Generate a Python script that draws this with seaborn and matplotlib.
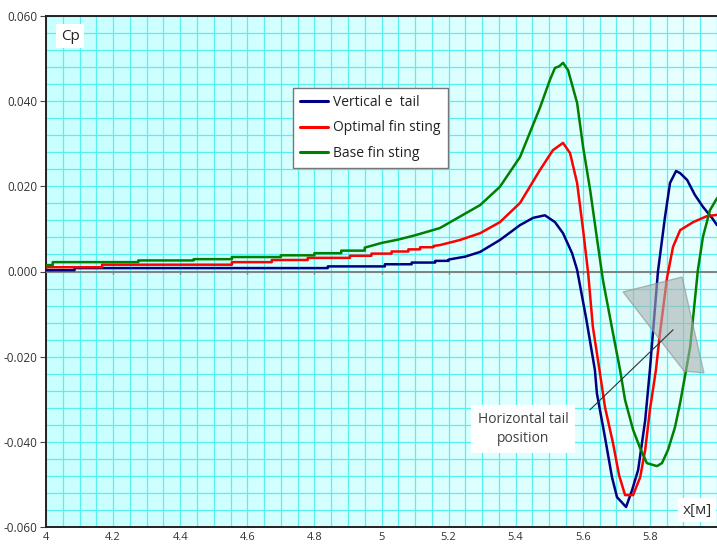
import numpy as np
import pandas as pd
import matplotlib
matplotlib.use("Agg")
import matplotlib.pyplot as plt
import seaborn as sns
from matplotlib.ticker import MultipleLocator
from matplotlib.colors import LinearSegmentedColormap
from matplotlib.patches import Polygon
from matplotlib.lines import Line2D

# ---------------- data ----------------
series_names = ["Vertical e  tail", "Optimal fin sting", "Base fin sting"]
series_colors = ["#000080", "#ff0000", "#008000"]

x_vertical = [4.000, 4.085, 4.085, 4.840, 4.840, 5.010, 5.010, 5.090, 5.090, 5.160, 5.160,
              5.200, 5.200, 5.250, 5.294, 5.353, 5.413, 5.452, 5.487, 5.517, 5.541, 5.568,
              5.583, 5.610, 5.636, 5.642, 5.666, 5.687, 5.702, 5.729, 5.747, 5.765, 5.786,
              5.800, 5.824, 5.845, 5.860, 5.878, 5.890, 5.911, 5.934, 5.958, 5.985, 6.000]
y_vertical = [0.0003, 0.0003, 0.0008, 0.0008, 0.0012, 0.0012, 0.0017, 0.0017, 0.0021, 0.0021, 0.0025,
              0.0025, 0.0028, 0.0035, 0.0046, 0.0074, 0.0109, 0.0126, 0.0132, 0.0116, 0.0090, 0.0043,
              0.0004, -0.0110, -0.0231, -0.0286, -0.0389, -0.0483, -0.0530, -0.0553, -0.0513, -0.0466, -0.0349,
              -0.0231, 0.0000, 0.0128, 0.0208, 0.0236, 0.0231, 0.0215, 0.0180, 0.0152, 0.0126, 0.0109]

x_optimal = [4.000, 4.167, 4.167, 4.554, 4.554, 4.673, 4.673, 4.780, 4.780, 4.906, 4.906,
             4.970, 4.970, 5.030, 5.030, 5.080, 5.080, 5.115, 5.115, 5.155, 5.155, 5.174,
             5.234, 5.294, 5.353, 5.413, 5.472, 5.511, 5.541, 5.562, 5.583, 5.601, 5.616,
             5.630, 5.651, 5.666, 5.690, 5.708, 5.726, 5.750, 5.771, 5.786, 5.800, 5.818,
             5.830, 5.851, 5.869, 5.890, 5.929, 5.970, 6.000]
y_optimal = [0.0010, 0.0010, 0.0016, 0.0016, 0.0022, 0.0022, 0.0027, 0.0027, 0.0032, 0.0032, 0.0037,
             0.0037, 0.0042, 0.0042, 0.0047, 0.0047, 0.0052, 0.0052, 0.0057, 0.0057, 0.0060, 0.0062,
             0.0074, 0.0090, 0.0116, 0.0161, 0.0238, 0.0285, 0.0302, 0.0278, 0.0208, 0.0097, -0.0004,
             -0.0130, -0.0238, -0.0318, -0.0403, -0.0478, -0.0525, -0.0525, -0.0483, -0.0419, -0.0325, -0.0231,
             -0.0145, -0.0015, 0.0058, 0.0097, 0.0116, 0.0130, 0.0133]

x_base = [4.000, 4.020, 4.020, 4.275, 4.275, 4.440, 4.440, 4.554, 4.554, 4.700, 4.700,
          4.800, 4.800, 4.880, 4.880, 4.950, 4.950, 5.000, 5.050, 5.100, 5.174, 5.294,
          5.353, 5.413, 5.472, 5.502, 5.517, 5.530, 5.541, 5.556, 5.583, 5.601, 5.622,
          5.640, 5.660, 5.690, 5.711, 5.726, 5.750, 5.771, 5.791, 5.821, 5.836, 5.854,
          5.875, 5.890, 5.908, 5.920, 5.943, 5.958, 5.979, 6.000]
y_base = [0.0015, 0.0015, 0.0022, 0.0022, 0.0026, 0.0026, 0.0029, 0.0029, 0.0034, 0.0034, 0.0038,
          0.0038, 0.0043, 0.0043, 0.0049, 0.0049, 0.0056, 0.0067, 0.0075, 0.0085, 0.0102, 0.0156,
          0.0199, 0.0269, 0.0384, 0.0450, 0.0478, 0.0482, 0.0490, 0.0473, 0.0396, 0.0292, 0.0191,
          0.0090, -0.0020, -0.0145, -0.0231, -0.0302, -0.0372, -0.0415, -0.0450, -0.0457, -0.0450, -0.0419,
          -0.0365, -0.0309, -0.0231, -0.0177, 0.0003, 0.0081, 0.0144, 0.0172]

x_tick_labels = ["4", "4.2", "4.4", "4.6", "4.8", "5", "5.2", "5.4", "5.6", "5.8"]
y_tick_labels = ["-0.060", "-0.040", "-0.020", "0.000", "0.020", "0.040", "0.060"]

# horizontal tail footprint (grey shape) and annotation
tail_x = [5.720, 5.896, 5.961, 5.902]
tail_y = [-0.0048, -0.0013, -0.0238, -0.0234]
pointer_x = [5.621, 5.869]
pointer_y = [-0.0325, -0.0137]

# ---------------- plotting ----------------
sns.set_style("ticks")
plt.rcParams["font.family"] = ["Open Sans", "DejaVu Sans"]

fig = plt.figure(figsize=(7.17, 5.46), dpi=100)
ax = fig.add_axes([46 / 717, 19 / 546, 671 / 717, 511 / 546])

# background gradient
cmap_bg = LinearSegmentedColormap.from_list("bg", ["#c8ffff", "#e8ffff"])
ax.imshow(np.linspace(0, 1, 256)[None, :], cmap=cmap_bg, extent=[0, 1, 0, 1],
          transform=ax.transAxes, aspect="auto", zorder=0)

frames = []
for name, xs, ys in zip(series_names,
                        [x_vertical, x_optimal, x_base],
                        [y_vertical, y_optimal, y_base]):
    frames.append(pd.DataFrame({"x": xs, "Cp": ys, "series": name}))
df = pd.concat(frames, ignore_index=True)

sns.lineplot(data=df, x="x", y="Cp", hue="series", hue_order=series_names,
             palette=series_colors, sort=False, estimator=None, units="series",
             linewidth=1.8, ax=ax, zorder=4, legend=False)

ax.set_xlim(4.0, 6.0)
ax.set_ylim(-0.060, 0.060)

ax.xaxis.set_minor_locator(MultipleLocator(0.05))
ax.yaxis.set_minor_locator(MultipleLocator(0.004))
ax.set_xticks([4 + 0.2 * i for i in range(len(x_tick_labels))])
ax.set_xticklabels(x_tick_labels)
ax.set_yticks([-0.06 + 0.02 * i for i in range(len(y_tick_labels))])
ax.set_yticklabels(y_tick_labels)

ax.grid(which="both", color="#55f0f0", linewidth=0.9)
ax.set_axisbelow(True)

ax.tick_params(axis="x", which="both", length=0, pad=3.5, labelsize=8, labelcolor="#333333")
ax.tick_params(axis="y", which="major", length=4, width=0.8, pad=2, labelsize=8.5,
               labelcolor="#333333", color="#444444")
ax.tick_params(axis="y", which="minor", length=0)

for side in ["left", "bottom", "top"]:
    ax.spines[side].set_color("#222222")
    ax.spines[side].set_linewidth(1.4)
ax.spines["right"].set_visible(False)

ax.set_xlabel("")
ax.set_ylabel("")

# zero line with ticks
ax.axhline(0, color="#808080", linewidth=1.4, zorder=3)
ax.vlines([4.2 + 0.2 * i for i in range(0, 9)], -0.0007, 0, color="#808080",
          linewidth=1.0, zorder=3)

# grey tail shape and pointer
ax.add_patch(Polygon(list(zip(tail_x, tail_y)), closed=True, facecolor="#a9b0b0",
                     edgecolor="#909090", alpha=0.6, linewidth=1, zorder=5))
ax.plot(pointer_x, pointer_y, color="#303030", linewidth=0.8, zorder=6)

ax.text(5.422, -0.0370, "Horizontal tail\nposition", ha="center", va="center",
        fontsize=10, color="#404040", linespacing=1.3, zorder=7,
        bbox=dict(facecolor="white", edgecolor="none", boxstyle="square,pad=0.5"))

ax.text(0.022, 0.975, "Cp", transform=ax.transAxes, ha="left", va="top",
        fontsize=11, color="#222222", zorder=7,
        bbox=dict(facecolor="white", edgecolor="none", boxstyle="square,pad=0.3"))
ax.text(0.970, 0.033, "x[м]", transform=ax.transAxes, ha="center", va="center",
        fontsize=11, color="#333333", zorder=7,
        bbox=dict(facecolor="white", edgecolor="none", boxstyle="square,pad=0.3"))

# legend
handles = [Line2D([0], [0], color=c, linewidth=2.2) for c in series_colors]
leg = ax.legend(handles, series_names, loc="upper left", bbox_to_anchor=(0.368, 0.859),
                frameon=True, fancybox=False, framealpha=1, facecolor="white",
                edgecolor="#777777", fontsize=10, handlelength=2.0, handletextpad=0.4,
                labelspacing=0.75, borderpad=0.5, borderaxespad=0)
leg.get_frame().set_linewidth(1.0)
leg.set_zorder(8)
for t in leg.get_texts():
    t.set_color("#222222")

fig.savefig("out.png", dpi=100)
